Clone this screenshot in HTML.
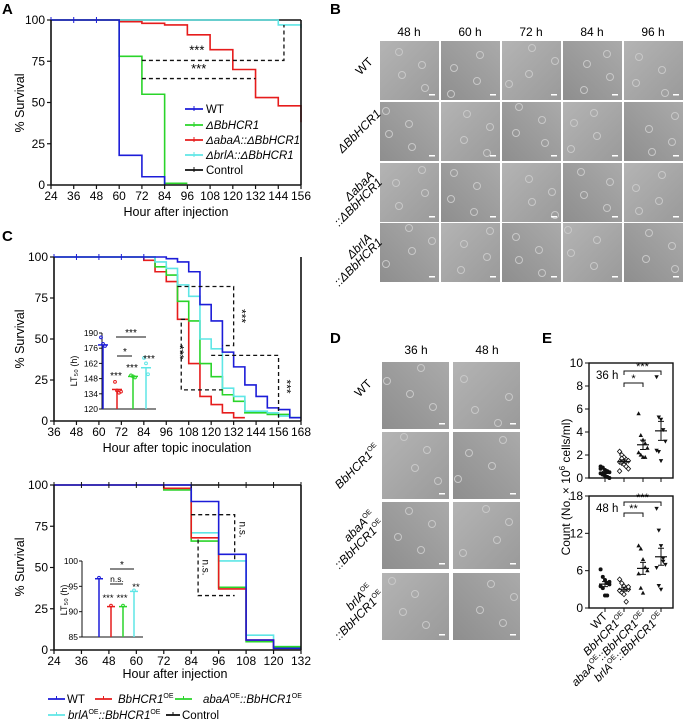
<!DOCTYPE html>
<html><head><meta charset="utf-8"><style>
html,body{margin:0;padding:0;background:#fff}
svg{display:block;font-family:"Liberation Sans",Arial,sans-serif}
</style></head><body>
<svg id="fig" width="683" height="720" viewBox="0 0 683 720">
<defs>
<linearGradient id="g1" x1="0" y1="0" x2="1" y2="1"><stop offset="0" stop-color="#b4b4b4"/><stop offset="1" stop-color="#9a9a9a"/></linearGradient>
<linearGradient id="g2" x1="1" y1="0" x2="0" y2="1"><stop offset="0" stop-color="#aaaaaa"/><stop offset="1" stop-color="#8e8e8e"/></linearGradient>
</defs>
<g id="labels" font-weight="bold" font-size="15">
<text x="2" y="14">A</text>
<text x="330" y="14">B</text>
<text x="2" y="241">C</text>
<text x="330" y="343">D</text>
<text x="542" y="343">E</text>
</g>
</svg>
<script>
const SVG="http://www.w3.org/2000/svg";
const fig=document.getElementById('fig');
function mk(tag,attrs,parent){const e=document.createElementNS(SVG,tag);for(const k in attrs)e.setAttribute(k,attrs[k]);(parent||fig).appendChild(e);return e;}
const C={wt:'#1c1cd8',red:'#e61c1c',green:'#2ad42a',cyan:'#5fe6e6',black:'#111'};

// ===== Panel A data =====
const aTicks=[24,36,48,60,72,84,96,108,120,132,144,156];
const aYTicks=[0,25,50,75,100];
const aWtT=[24,60,72,84,84], aWtV=[100,18,5,0];
const aDelT=[24,60,72,84,96], aDelV=[100,78,55,1];
const aAbaT=[24,60,72,84,96,108,120,132,144,156,156], aAbaV=[100,99,98,97,91,82,70,53,48,38];
const aBrlT=[24,144,156,156], aBrlV=[100,97,95];
const aCtlT=[24,156], aCtlV=[100];

// ===== Panel C top data =====
const ctTicks=[36,48,60,72,84,96,108,120,132,144,156,168];
const ctWtT=[36,96,102,108,114,120,126,132,138,144,150,156,162,168], ctWtV=[100,99,97,91,71,61,42,33,22,15,8,7,2];
const ctCyT=[36,90,96,102,108,114,120,126,132,138,150,156,162,168], ctCyV=[100,97,93,83,76,50,44,20,15,6,5,3,2];
const ctGrT=[36,90,96,102,108,114,120,126,132,138,150,162,168], ctGrV=[100,94,89,73,61,35,27,16,12,5,4,2];
const ctRdT=[36,84,90,96,102,108,114,120,126,132,138], ctRdV=[100,98,91,85,62,35,15,10,5,2];
const ctInsetTicks=[120,134,148,162,176,190];
const ctInsetMeans=[179,138,150,158];
const ctInsetPts=[[186,180,178],[145,137,135,136],[151,150,149],[167,162,152]];

// ===== Panel C bottom data =====
const cbTicks=[24,36,48,60,72,84,96,108,120,132];
const cbWtT=[24,84,96,108,120,132], cbWtV=[100,90,58,6,1];
const cbRdT=[24,72,84,96,108,120,132], cbRdV=[100,98,68,37,6,1];
const cbGrT=[24,72,84,96,108,120,132], cbGrV=[100,97,66,38,5,2];
const cbCyT=[24,72,84,96,108,120,132], cbCyV=[100,98,71,54,9,2];
const cbInsetTicks=[85,90,95,100];
const cbInsetMeans=[96.5,91,91,94];

// ===== Panel E data =====
const eCats=['WT','BbHCR1','abaA::BbHCR1','brlA::BbHCR1'];
const e36=[[1.0,0.9,0.7,0.6,0.5,0.4,0.3,0.2,0.1,0.0,0.8,0.3],[2.3,2.0,1.8,1.6,1.5,1.4,1.3,1.2,1.0,0.8,0.6,1.7],[5.6,3.7,3.3,3.0,2.6,2.2,2.0,1.8,1.8],[8.8,5.3,5.1,4.2,3.2,2.4,2.3,1.5]];
const e48=[[6.2,5.0,4.5,4.0,3.8,3.5,3.2,2.0,2.0,4.2],[4.6,4.0,3.5,3.2,3.0,2.8,2.5,2.2,1.0,3.4],[10,9.5,7.8,6.5,6.0,5.5,3.2,2.4],[16,12.5,10,8,7,6.5,3.6,3.0,7.5]];
const e36Ticks=[0,2,4,6,8,10], e48Ticks=[0,6,12,18];

function lin(d0,d1,r0,r1){return v=>r0+(v-d0)/(d1-d0)*(r1-r0);}

function axes(g,X,Y,xt,yt,x0,x1,y0,y1,fs){
  const ax=mk('path',{d:`M${x0},${y1}V${y0}H${x1}`,stroke:'#111','stroke-width':1.6,fill:'none'},g);
  
  
  mk('line',{x1:x1,x2:x1,y1:y0,y2:y1,stroke:'#111','stroke-width':1.6},g);
  xt.forEach(t=>{mk('line',{x1:X(t),x2:X(t),y1:y0,y2:y0+4,stroke:'#111','stroke-width':1.2},g);
    const tx=mk('text',{x:X(t),y:y0+15,'font-size':fs,'text-anchor':'middle'},g);tx.textContent=t;
    
    });
  yt.forEach(t=>{mk('line',{x1:x0-4,x2:x0,y1:Y(t),y2:Y(t),stroke:'#111','stroke-width':1.2},g);
    const tx=mk('text',{x:x0-6,y:Y(t)+4,'font-size':fs,'text-anchor':'end'},g);tx.textContent=t;
    
    });
}
function step(g,X,Y,T,V,col,w,name){
  let d=`M${X(T[0])},${Y(V[0])}`;
  for(let i=0;i<V.length;i++){d+=`H${X(T[i+1])}`;if(i+1<V.length)d+=`V${Y(V[i+1])}`;}
  const p=mk('path',{d:d,stroke:col,'stroke-width':w||1.6,fill:'none'},g);
  
  
}
function text(g,x,y,s,attrs){const t=mk('text',Object.assign({x:x,y:y},attrs||{}),g);t.textContent=s;return t;}
function dash(g,d){mk('path',{d:d,stroke:'#111','stroke-width':1.3,'stroke-dasharray':'4,3',fill:'none'},g);}

// ===== Panel A =====
(function(){
  const g=mk('g',{});
  
  
  const X=lin(24,156,51,301),Y=lin(0,100,185,20);
  step(g,X,Y,aCtlT,aCtlV,C.black,1.6,'series-control');
  step(g,X,Y,aBrlT,aBrlV,C.cyan,1.6,'series-brla');
  step(g,X,Y,aAbaT,aAbaV,C.red,1.6,'series-abaa');
  step(g,X,Y,aDelT,aDelV,C.green,1.6,'series-dbbhcr1');
  step(g,X,Y,aWtT,aWtV,C.wt,1.6,'series-wt');
  aTicks.forEach(t=>{if(t<60)mk('line',{x1:X(t),x2:X(t),y1:Y(100)-3,y2:Y(100)+3,stroke:C.wt,'stroke-width':1},g);});
  axes(g,X,Y,aTicks,aYTicks,51,301,185,20,12);
  dash(g,`M${X(72)},${Y(75.5)}H${X(147)}V${Y(97)}`);
  dash(g,`M${X(72)},${Y(64.5)}H${X(132)}`);
  text(g,X(101),Y(79),'***',{'font-size':13,'text-anchor':'middle'});
  text(g,X(102),Y(68),'***',{'font-size':13,'text-anchor':'middle'});
  const xl=text(g,176,216,'Hour after injection',{'font-size':12.5,'text-anchor':'middle'});
  
  
  const yl=text(g,0,0,'% Survival',{'font-size':12.5,'text-anchor':'middle',transform:'translate(24,103) rotate(-90)'});
  
  
  const leg=[['WT',C.wt,false],['ΔBbHCR1',C.green,true],['ΔabaA::ΔBbHCR1',C.red,true],['ΔbrlA::ΔBbHCR1',C.cyan,true],['Control',C.black,false]];
  const ly=[109,125,140,155,170];
  leg.forEach((l,i)=>{
    const e=mk('g',{},g);
    
    
    mk('line',{x1:185,x2:203,y1:ly[i],y2:ly[i],stroke:l[1],'stroke-width':1.8},e);
    mk('line',{x1:194,x2:194,y1:ly[i]-3,y2:ly[i]+2,stroke:l[1],'stroke-width':1},e);
    text(e,206,ly[i]+4,l[0],{'font-size':11.5,'font-style':l[2]?'italic':'normal'});
  });
})();

// ===== Panel C top =====
(function(){
  const g=mk('g',{});
  
  
  const X=lin(36,168,54,301),Y=lin(0,100,421,257);
  step(g,X,Y,ctRdT,ctRdV,C.red,1.6,'series-bbhcr1-oe');
  step(g,X,Y,ctGrT,ctGrV,C.green,1.6,'series-abaa-oe');
  step(g,X,Y,ctCyT,ctCyV,C.cyan,1.6,'series-brla-oe');
  step(g,X,Y,ctWtT,ctWtV,C.wt,1.6,'series-wt');
  ctTicks.forEach(t=>{if(t<96)mk('line',{x1:X(t),x2:X(t),y1:Y(100)-3,y2:Y(100)+3,stroke:C.wt,'stroke-width':1},g);});
  axes(g,X,Y,ctTicks,aYTicks,54,301,421,257,12);
  dash(g,`M${X(102)},${Y(82)}H${X(132)}V${Y(46)}H${X(126)}`);
  dash(g,`M${X(120)},${Y(40)}H${X(156)}V${Y(2)}`);
  dash(g,`M${X(106)},${Y(62)}H${X(104)}V${Y(19)}H${X(126)}`);
  text(g,0,0,'***',{'font-size':12,'text-anchor':'middle',transform:`translate(${X(134)},${Y(64)}) rotate(90)`});
  text(g,0,0,'***',{'font-size':12,'text-anchor':'middle',transform:`translate(${X(101)},${Y(42)}) rotate(90)`});
  text(g,0,0,'***',{'font-size':12,'text-anchor':'middle',transform:`translate(${X(158)},${Y(21)}) rotate(90)`});
  const xl=text(g,177,452,'Hour after topic inoculation',{'font-size':12.5,'text-anchor':'middle'});
  
  
  const yl=text(g,0,0,'% Survival',{'font-size':12.5,'text-anchor':'middle',transform:'translate(24,339) rotate(-90)'});
  
  
  // inset
  const ig=mk('g',{},g);
  
  
  const IY=lin(120,190,409,333), ix=[103,117,133,146], cols=[C.wt,C.red,C.green,C.cyan];
  mk('path',{d:`M102,333V409H156`,stroke:'#111','stroke-width':1,fill:'none'},ig);
  ctInsetTicks.forEach(t=>{mk('line',{x1:99,x2:102,y1:IY(t),y2:IY(t),stroke:'#111'},ig);text(ig,98,IY(t)+3,t,{'font-size':8.5,'text-anchor':'end'});});
  text(ig,0,0,'LT₅₀ (h)',{'font-size':9,'text-anchor':'middle',transform:'translate(77,371) rotate(-90)'});
  ctInsetMeans.forEach((m,i)=>{
    const b=mk('g',{},ig);
    
    
    mk('line',{x1:ix[i],x2:ix[i],y1:IY(120),y2:IY(m),stroke:cols[i],'stroke-width':1.5},b);
    mk('line',{x1:ix[i]-5,x2:ix[i]+5,y1:IY(m),y2:IY(m),stroke:cols[i],'stroke-width':1.5},b);
    ctInsetPts[i].forEach((p,j)=>mk('circle',{cx:ix[i]+(j-1)*2,cy:IY(p),r:1.4,fill:'none',stroke:cols[i]},b));
  });
  mk('line',{x1:116,x2:146,y1:337,y2:337,stroke:'#111'},ig);text(ig,131,336,'***',{'font-size':10,'text-anchor':'middle'});
  mk('line',{x1:117,x2:132,y1:356,y2:356,stroke:'#111'},ig);text(ig,125,355,'*',{'font-size':10,'text-anchor':'middle'});
  text(ig,116,379,'***',{'font-size':10,'text-anchor':'middle'});
  text(ig,132,371,'***',{'font-size':10,'text-anchor':'middle'});
  text(ig,149,362,'***',{'font-size':10,'text-anchor':'middle'});
})();

// ===== Panel C bottom =====
(function(){
  const g=mk('g',{});
  
  
  const X=lin(24,132,54,301),Y=lin(0,100,650,485);
  step(g,X,Y,[24,132],[100],C.black,1.6,'series-control');
  step(g,X,Y,cbCyT,cbCyV,C.cyan,1.6,'series-brla-oe');
  step(g,X,Y,cbGrT,cbGrV,C.green,1.6,'series-abaa-oe');
  step(g,X,Y,cbRdT,cbRdV,C.red,1.6,'series-bbhcr1-oe');
  step(g,X,Y,cbWtT,cbWtV,C.wt,1.6,'series-wt');
  cbTicks.forEach(t=>{mk('line',{x1:X(t),x2:X(t),y1:Y(100)-3,y2:Y(100)+3,stroke:'#111','stroke-width':1},g);});
  axes(g,X,Y,cbTicks,aYTicks,54,301,650,485,12);
  dash(g,`M${X(84)},${Y(82)}H${X(103)}V${Y(55)}`);
  dash(g,`M${X(87)},${Y(67)}V${Y(33)}H${X(103)}`);
  text(g,0,0,'n.s.',{'font-size':10,'text-anchor':'middle',transform:`translate(${X(105)},${Y(73)}) rotate(90)`});
  text(g,0,0,'n.s.',{'font-size':10,'text-anchor':'middle',transform:`translate(${X(89)},${Y(50)}) rotate(90)`});
  const xl=text(g,175,678,'Hour after injection',{'font-size':12.5,'text-anchor':'middle'});
  
  
  const yl=text(g,0,0,'% Survival',{'font-size':12.5,'text-anchor':'middle',transform:'translate(24,567) rotate(-90)'});
  
  
  const ig=mk('g',{},g);
  
  
  const IY=lin(85,100,637,561), ix=[99,111,123,134], cols=[C.wt,C.red,C.green,C.cyan];
  mk('path',{d:`M82,561V637H143`,stroke:'#111','stroke-width':1,fill:'none'},ig);
  cbInsetTicks.forEach(t=>{mk('line',{x1:79,x2:82,y1:IY(t),y2:IY(t),stroke:'#111'},ig);text(ig,78,IY(t)+3,t,{'font-size':8.5,'text-anchor':'end'});});
  text(ig,0,0,'LT₅₀ (h)',{'font-size':9,'text-anchor':'middle',transform:'translate(67,600) rotate(-90)'});
  cbInsetMeans.forEach((m,i)=>{
    const b=mk('g',{},ig);
    
    
    mk('line',{x1:ix[i],x2:ix[i],y1:IY(85),y2:IY(m),stroke:cols[i],'stroke-width':1.5},b);
    mk('line',{x1:ix[i]-4,x2:ix[i]+4,y1:IY(m),y2:IY(m),stroke:cols[i],'stroke-width':1.5},b);
    mk('circle',{cx:ix[i],cy:IY(m)-1,r:1.4,fill:'none',stroke:cols[i]},b);
  });
  mk('line',{x1:110,x2:134,y1:569,y2:569,stroke:'#111'},ig);text(ig,122,568,'*',{'font-size':10,'text-anchor':'middle'});
  mk('line',{x1:110,x2:123,y1:584,y2:584,stroke:'#111'},ig);text(ig,117,582,'n.s.',{'font-size':8.5,'text-anchor':'middle'});
  text(ig,108,601,'***',{'font-size':9.5,'text-anchor':'middle'});
  text(ig,122,601,'***',{'font-size':9.5,'text-anchor':'middle'});
  text(ig,136,590,'**',{'font-size':9.5,'text-anchor':'middle'});
  // legend
  const leg=[['WT',C.wt,48,65,67,699,false],['BbHCR1',C.red,95,112,118,699,true],['abaA',C.green,175,192,203,699,true],['brlA',C.cyan,48,65,68,715,true],['Control',C.black,166,180,182,715,false]];
  leg.forEach(l=>{
    const e=mk('g',{},g);
    
    
    mk('line',{x1:l[2],x2:l[3],y1:l[5],y2:l[5],stroke:l[1],'stroke-width':1.8},e);
    mk('line',{x1:(l[2]+l[3])/2,x2:(l[2]+l[3])/2,y1:l[5]-3,y2:l[5],stroke:l[1],'stroke-width':1},e);
    const t=text(e,l[4],l[5]+4,'',{'font-size':11.5});
    if(l[0]==='WT'||l[0]==='Control'){t.textContent=l[0];}
    else if(l[0]==='BbHCR1'){t.innerHTML='<tspan font-style="italic">BbHCR1</tspan><tspan font-size="7" dy="-5">OE</tspan>';}
    else{t.innerHTML=`<tspan font-style="italic">${l[0]}</tspan><tspan font-size="7" dy="-5">OE</tspan><tspan dy="5" font-style="italic">::BbHCR1</tspan><tspan font-size="7" dy="-5">OE</tspan>`;}
  });
})();

// ===== Micrograph grids =====
function micro(g,x,y,w,h,seed,name){
  const m=mk('g',{},g);
  
  
  mk('rect',{x:x,y:y,width:w,height:h,fill:seed%2?'url(#g1)':'url(#g2)'},m);
  for(let k=0;k<4;k++){const cx=x+((seed*17+k*23)%(w-10))+5, cy=y+((seed*29+k*13)%(h-10))+5;
    mk('circle',{cx:cx,cy:cy,r:3.5,fill:'none',stroke:'#c8c8c8','stroke-width':1},m);}
  mk('rect',{x:x+w-10,y:y+h-6,width:6,height:1.5,fill:'#fff'},m);
}
(function(){
  const g=mk('g',{});
  
  
  const cx=[380,441,502,563,624], ry=[41,102,163,223], hdr=['48 h','60 h','72 h','84 h','96 h'];
  hdr.forEach((h,i)=>text(g,cx[i]+29,36,h,{'font-size':12,'text-anchor':'middle'}));
  ry.forEach((y,r)=>cx.forEach((x,c)=>micro(g,x,y,59,59,r*5+c+1,'micrograph')));
  const rl=[['WT'],['ΔBbHCR1'],['ΔabaA','::ΔBbHCR1'],['ΔbrlA','::ΔBbHCR1']];
  rl.forEach((l,r)=>{
    const cy=ry[r]+30;
    if(l.length===1){text(g,0,0,l[0],{'font-size':12,'text-anchor':'middle','font-style':r?'italic':'normal',transform:`translate(${r?362:367},${cy+(r?2:-2)}) rotate(-45)`});}
    else{text(g,0,0,l[0],{'font-size':12,'text-anchor':'middle','font-style':'italic',transform:`translate(${362},${cy-4}) rotate(-45)`});
      text(g,0,0,l[1],{'font-size':12,'text-anchor':'middle','font-style':'italic',transform:`translate(${361},${cy+12}) rotate(-45)`});}
  });
})();
(function(){
  const g=mk('g',{});
  
  
  const cx=[382,453], ry=[362,432,502,573];
  text(g,416,354,'36 h',{'font-size':12,'text-anchor':'middle'});
  text(g,487,354,'48 h',{'font-size':12,'text-anchor':'middle'});
  ry.forEach((y,r)=>cx.forEach((x,c)=>micro(g,x,y,67,67,r*3+c+2,'micrograph')));
  const oe='<tspan font-size="7" dy="-5">OE</tspan>';
  const lines=[[['WT',false]],[['<tspan font-style="italic">BbHCR1</tspan>'+oe,true]],[['<tspan font-style="italic">abaA</tspan>'+oe,true],['<tspan font-style="italic">::BbHCR1</tspan>'+oe,true]],[['<tspan font-style="italic">brlA</tspan>'+oe,true],['<tspan font-style="italic">::BbHCR1</tspan>'+oe,true]]];
  lines.forEach((l,r)=>{
    const cy=ry[r]+33;
    if(l.length===1){const t=text(g,0,0,'',{'font-size':12,'text-anchor':'middle',transform:`translate(${r?360:366},${cy+(r?4:-4)}) rotate(-45)`});t.innerHTML=l[0][0];}
    else{const t1=text(g,0,0,'',{'font-size':12,'text-anchor':'middle',transform:`translate(362,${cy-6}) rotate(-45)`});t1.innerHTML=l[0][0];
      const t2=text(g,0,0,'',{'font-size':12,'text-anchor':'middle',transform:`translate(362,${cy+12}) rotate(-45)`});t2.innerHTML=l[1][0];}
  });
})();

// ===== Panel E =====
(function(){
  const g=mk('g',{});
  
  
  const cx=[605,624,643,661];
  function sub(data,ticks,ymax,y0,y1,lab,brs){
    const Y=lin(0,ymax,y0,y1);
    mk('rect',{x:589,y:y1,width:84,height:y0-y1,fill:'none',stroke:'#111','stroke-width':1.4},g);
    ticks.forEach(t=>{mk('line',{x1:585,x2:589,y1:Y(t),y2:Y(t),stroke:'#111'},g);
      const tx=text(g,583,Y(t)+4,t,{'font-size':12,'text-anchor':'end'});
      
      });
    cx.forEach(x=>mk('line',{x1:x,x2:x,y1:y0,y2:y0+4,stroke:'#111'},g));
    text(g,596,y1+16,lab,{'font-size':11.5});
    data.forEach((arr,i)=>{
      const grp=mk('g',{},g);
      
      
      arr.forEach((v,j)=>{
        const x=cx[i]+((j%5)-2)*2.2, y=Y(v);
        let e;
        if(i===0)e=mk('circle',{cx:x,cy:y,r:2,fill:'#111'},grp);
        else if(i===1)e=mk('path',{d:`M${x},${y-2.4}L${x+2.2},${y}L${x},${y+2.4}L${x-2.2},${y}Z`,fill:'#fff',stroke:'#111','stroke-width':0.8},grp);
        else if(i===2)e=mk('path',{d:`M${x},${y-2.4}L${x+2.2},${y+1.6}L${x-2.2},${y+1.6}Z`,fill:'#111'},grp);
        else e=mk('path',{d:`M${x},${y+2.4}L${x+2.2},${y-1.6}L${x-2.2},${y-1.6}Z`,fill:'#111'},grp);
        
        
      });
      const mean=arr.reduce((a,b)=>a+b,0)/arr.length;
      const sd=Math.sqrt(arr.reduce((a,b)=>a+(b-mean)*(b-mean),0)/(arr.length-1))/Math.sqrt(arr.length);
      mk('line',{x1:cx[i]-6,x2:cx[i]+6,y1:Y(mean),y2:Y(mean),stroke:'#111','stroke-width':1.2},grp);
      mk('path',{d:`M${cx[i]-3},${Y(mean+sd)}H${cx[i]+3}M${cx[i]},${Y(mean+sd)}V${Y(mean-sd)}M${cx[i]-3},${Y(mean-sd)}H${cx[i]+3}`,stroke:'#111','stroke-width':1,fill:'none'},grp);
    });
    brs.forEach(b=>{mk('path',{d:`M${cx[1]},${b[0]+4}V${b[0]}H${cx[b[1]]}V${b[0]+4}`,stroke:'#111','stroke-width':1,fill:'none'},g);
      text(g,(cx[1]+cx[b[1]])/2,b[0]-1,b[2],{'font-size':11,'text-anchor':'middle'});});
  }
  sub(e36,e36Ticks,10,478,363,'36 h',[[383,2,'*'],[371,3,'***']]);
  sub(e48,e48Ticks,18,608,496,'48 h',[[513,2,'**'],[502,3,'***']]);
  const yl=text(g,0,0,'',{'font-size':12,'text-anchor':'middle',transform:'translate(570,487) rotate(-90)'});
  yl.innerHTML='Count (No. × 10<tspan font-size="8" dy="-5">6</tspan><tspan dy="5"> cells/ml)</tspan>';
  
  
  const oe='<tspan font-size="7" dy="-5">OE</tspan>';
  const labs=['WT','<tspan font-style="italic">BbHCR1</tspan>'+oe,'<tspan font-style="italic">abaA</tspan>'+oe+'<tspan dy="5" font-style="italic">::BbHCR1</tspan>'+oe,'<tspan font-style="italic">brlA</tspan>'+oe+'<tspan dy="5" font-style="italic">::BbHCR1</tspan>'+oe];
  labs.forEach((l,i)=>{const t=text(g,0,0,'',{'font-size':11.5,'text-anchor':'end',transform:`translate(${cx[i]+3},${617}) rotate(-45)`});t.innerHTML=l;
    
    });
})();
</script>
</body></html>
